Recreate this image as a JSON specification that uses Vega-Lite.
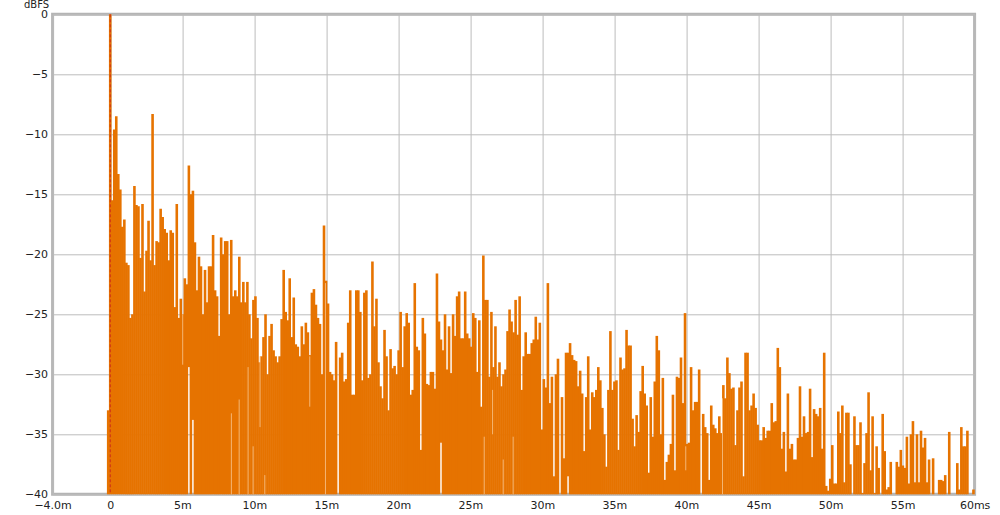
{"$schema":"https://vega.github.io/schema/vega-lite/v6.json","width":922,"height":480,"autosize":"none","padding":{"left":52.6,"top":14.3,"right":25.4,"bottom":20.7},"background":"white","config":{"view":{"stroke":"#b4b4b4","strokeWidth":3},"font":"DejaVu Sans"},
"datasets":{
"main":[{"t":-0.14,"db":-33},{"t":0,"db":0},{"t":0.14,"db":-15.5},{"t":0.28,"db":-9.6},{"t":0.42,"db":-8.5},{"t":0.56,"db":-13.3},{"t":0.7,"db":-14.6},{"t":0.84,"db":-17.7},{"t":0.98,"db":-17.1},{"t":1.12,"db":-20.7},{"t":1.26,"db":-20.9},{"t":1.4,"db":-25.3},{"t":1.54,"db":-25},{"t":1.68,"db":-14.3},{"t":1.82,"db":-15.9},{"t":1.96,"db":-16},{"t":2.1,"db":-20.3},{"t":2.24,"db":-15.8},{"t":2.38,"db":-23.1},{"t":2.52,"db":-19.7},{"t":2.66,"db":-17.2},{"t":2.8,"db":-20.5},{"t":2.94,"db":-8.3},{"t":3.08,"db":-20.9},{"t":3.22,"db":-18.9},{"t":3.36,"db":-19},{"t":3.5,"db":-16.2},{"t":3.64,"db":-16.9},{"t":3.78,"db":-17.9},{"t":3.92,"db":-18.2},{"t":4.06,"db":-20.5},{"t":4.2,"db":-18},{"t":4.34,"db":-18.2},{"t":4.48,"db":-24.4},{"t":4.62,"db":-15.8},{"t":4.76,"db":-25.3},{"t":4.9,"db":-23.7},{"t":5.04,"db":-25},{"t":5.18,"db":-22},{"t":5.32,"db":-22.5},{"t":5.6,"db":-15},{"t":5.88,"db":-19},{"t":6.02,"db":-23},{"t":6.16,"db":-20.2},{"t":6.3,"db":-21},{"t":6.44,"db":-25},{"t":6.58,"db":-21.3},{"t":6.72,"db":-24},{"t":6.86,"db":-21},{"t":7,"db":-21},{"t":7.14,"db":-18.4},{"t":7.28,"db":-23},{"t":7.42,"db":-23.5},{"t":7.56,"db":-26.8},{"t":7.7,"db":-18.6},{"t":7.84,"db":-20},{"t":7.98,"db":-18.9},{"t":8.12,"db":-18.9},{"t":8.26,"db":-25},{"t":8.4,"db":-18.8},{"t":8.54,"db":-23.5},{"t":8.68,"db":-23},{"t":8.82,"db":-23.5},{"t":8.96,"db":-20.2},{"t":9.1,"db":-24},{"t":9.24,"db":-22.3},{"t":9.38,"db":-24},{"t":9.52,"db":-22.3},{"t":9.66,"db":-25},{"t":9.8,"db":-27},{"t":9.94,"db":-23.8},{"t":10.08,"db":-23.5},{"t":10.22,"db":-25.3},{"t":10.36,"db":-29},{"t":10.5,"db":-28.5},{"t":10.64,"db":-26.9},{"t":10.78,"db":-25},{"t":10.92,"db":-30},{"t":11.06,"db":-26.8},{"t":11.2,"db":-25.8},{"t":11.34,"db":-28},{"t":11.48,"db":-28.5},{"t":11.62,"db":-29},{"t":11.76,"db":-28.5},{"t":11.9,"db":-25.4},{"t":12.04,"db":-21.3},{"t":12.18,"db":-24.8},{"t":12.32,"db":-25.5},{"t":12.46,"db":-22},{"t":12.6,"db":-26.9},{"t":12.74,"db":-23.6},{"t":12.88,"db":-27.5},{"t":13.02,"db":-27.7},{"t":13.16,"db":-28.5},{"t":13.3,"db":-26},{"t":13.44,"db":-27.5},{"t":13.58,"db":-25.7},{"t":13.72,"db":-26.5},{"t":13.86,"db":-28.4},{"t":14,"db":-23.2},{"t":14.14,"db":-22.9},{"t":14.28,"db":-24.2},{"t":14.42,"db":-25.3},{"t":14.56,"db":-25.8},{"t":14.7,"db":-30},{"t":14.84,"db":-17.6},{"t":14.98,"db":-22.2},{"t":15.12,"db":-24.1},{"t":15.26,"db":-29.8},{"t":15.4,"db":-30},{"t":15.54,"db":-30.5},{"t":15.68,"db":-27.3},{"t":15.96,"db":-28.6},{"t":16.1,"db":-28.2},{"t":16.24,"db":-30.6},{"t":16.38,"db":-30.4},{"t":16.52,"db":-25.7},{"t":16.66,"db":-23},{"t":16.8,"db":-31.7},{"t":16.94,"db":-31.7},{"t":17.08,"db":-23},{"t":17.22,"db":-23},{"t":17.36,"db":-24.8},{"t":17.5,"db":-30.5},{"t":17.64,"db":-23.2},{"t":17.78,"db":-23},{"t":17.92,"db":-30.3},{"t":18.06,"db":-30},{"t":18.2,"db":-20.6},{"t":18.34,"db":-26},{"t":18.48,"db":-23.7},{"t":18.62,"db":-29},{"t":18.76,"db":-31},{"t":18.9,"db":-32},{"t":19.04,"db":-26.3},{"t":19.18,"db":-28.5},{"t":19.32,"db":-33},{"t":19.46,"db":-27.9},{"t":19.6,"db":-29.5},{"t":19.74,"db":-29.3},{"t":19.88,"db":-30},{"t":20.02,"db":-28},{"t":20.16,"db":-24.8},{"t":20.3,"db":-29.4},{"t":20.44,"db":-26},{"t":20.58,"db":-24.9},{"t":20.72,"db":-25.7},{"t":20.86,"db":-31.7},{"t":21,"db":-31.3},{"t":21.14,"db":-22.4},{"t":21.28,"db":-27.7},{"t":21.42,"db":-28},{"t":21.56,"db":-36.3},{"t":21.7,"db":-25.3},{"t":21.84,"db":-26.6},{"t":21.98,"db":-30.8},{"t":22.12,"db":-30.9},{"t":22.26,"db":-29.8},{"t":22.4,"db":-29.8},{"t":22.54,"db":-31.2},{"t":22.68,"db":-21.6},{"t":22.82,"db":-25.6},{"t":23.1,"db":-28},{"t":23.24,"db":-25},{"t":23.38,"db":-29.6},{"t":23.52,"db":-26},{"t":23.66,"db":-29.9},{"t":23.8,"db":-25},{"t":23.94,"db":-26.8},{"t":24.08,"db":-23.5},{"t":24.22,"db":-23.1},{"t":24.36,"db":-27},{"t":24.5,"db":-27},{"t":24.64,"db":-23.1},{"t":24.78,"db":-26.6},{"t":24.92,"db":-27},{"t":25.06,"db":-27.7},{"t":25.2,"db":-24.9},{"t":25.34,"db":-25.3},{"t":25.48,"db":-29.8},{"t":25.62,"db":-25.5},{"t":25.76,"db":-32.7},{"t":25.9,"db":-20.1},{"t":26.04,"db":-23.8},{"t":26.18,"db":-23.8},{"t":26.32,"db":-30.2},{"t":26.46,"db":-24.8},{"t":26.6,"db":-29.4},{"t":26.74,"db":-26},{"t":26.88,"db":-30.2},{"t":27.02,"db":-29},{"t":27.16,"db":-31},{"t":27.3,"db":-30},{"t":27.44,"db":-29.6},{"t":27.58,"db":-26.4},{"t":27.72,"db":-24.6},{"t":27.86,"db":-25.6},{"t":28,"db":-26.5},{"t":28.14,"db":-23.8},{"t":28.28,"db":-26.7},{"t":28.42,"db":-23.5},{"t":28.56,"db":-31.3},{"t":28.7,"db":-28.5},{"t":28.84,"db":-26.5},{"t":28.98,"db":-28.3},{"t":29.12,"db":-28.3},{"t":29.26,"db":-27.4},{"t":29.4,"db":-27.1},{"t":29.54,"db":-25.2},{"t":29.68,"db":-27.1},{"t":29.82,"db":-25.7},{"t":29.96,"db":-34.6},{"t":30.1,"db":-30.4},{"t":30.24,"db":-31.1},{"t":30.38,"db":-22.4},{"t":30.52,"db":-32.4},{"t":30.66,"db":-30.2},{"t":30.8,"db":-38.5},{"t":30.94,"db":-30},{"t":31.08,"db":-28.7},{"t":31.36,"db":-31.9},{"t":31.5,"db":-37},{"t":31.64,"db":-28.2},{"t":31.92,"db":-27.4},{"t":32.06,"db":-28.4},{"t":32.2,"db":-28.8},{"t":32.34,"db":-28.9},{"t":32.48,"db":-31},{"t":32.62,"db":-29.7},{"t":32.76,"db":-31.6},{"t":32.9,"db":-36.4},{"t":33.04,"db":-31.9},{"t":33.18,"db":-28.5},{"t":33.32,"db":-34.6},{"t":33.46,"db":-31.5},{"t":33.6,"db":-31.9},{"t":33.74,"db":-31.3},{"t":33.88,"db":-29.4},{"t":34.02,"db":-30.5},{"t":34.16,"db":-32.8},{"t":34.3,"db":-35},{"t":34.44,"db":-37.7},{"t":34.58,"db":-31.3},{"t":34.72,"db":-26.4},{"t":34.86,"db":-31.3},{"t":35,"db":-30.6},{"t":35.14,"db":-30.5},{"t":35.28,"db":-36.3},{"t":35.42,"db":-28.6},{"t":35.56,"db":-29.6},{"t":35.7,"db":-29.5},{"t":35.84,"db":-26.3},{"t":35.98,"db":-27.6},{"t":36.12,"db":-27.6},{"t":36.26,"db":-33.7},{"t":36.4,"db":-36},{"t":36.54,"db":-33.4},{"t":36.68,"db":-34.8},{"t":36.82,"db":-31.4},{"t":36.96,"db":-29.3},{"t":37.1,"db":-31.6},{"t":37.24,"db":-32.6},{"t":37.38,"db":-38.2},{"t":37.52,"db":-31.9},{"t":37.66,"db":-35.2},{"t":37.8,"db":-30.6},{"t":37.94,"db":-26.8},{"t":38.08,"db":-28},{"t":38.22,"db":-35},{"t":38.36,"db":-30.3},{"t":38.5,"db":-38.8},{"t":38.64,"db":-37.3},{"t":38.78,"db":-36.7},{"t":38.92,"db":-35.8},{"t":39.06,"db":-31.7},{"t":39.2,"db":-38},{"t":39.34,"db":-30.2},{"t":39.48,"db":-30.3},{"t":39.62,"db":-28.6},{"t":39.76,"db":-32.4},{"t":39.9,"db":-24.9},{"t":40.04,"db":-35.8},{"t":40.18,"db":-35.7},{"t":40.32,"db":-29.4},{"t":40.46,"db":-33},{"t":40.6,"db":-32.3},{"t":40.74,"db":-32.3},{"t":40.88,"db":-29.6},{"t":41.16,"db":-33.3},{"t":41.3,"db":-34.4},{"t":41.44,"db":-34.9},{"t":41.58,"db":-38.8},{"t":41.72,"db":-32.6},{"t":41.86,"db":-34.2},{"t":42,"db":-34.5},{"t":42.14,"db":-34.9},{"t":42.28,"db":-33.5},{"t":42.42,"db":-34.9},{"t":42.56,"db":-30.9},{"t":42.7,"db":-32},{"t":42.84,"db":-28.6},{"t":42.98,"db":-29.9},{"t":43.12,"db":-31.2},{"t":43.26,"db":-31.1},{"t":43.4,"db":-35.9},{"t":43.54,"db":-33},{"t":43.68,"db":-31.1},{"t":43.82,"db":-30.6},{"t":43.96,"db":-38.5},{"t":44.1,"db":-28.2},{"t":44.24,"db":-28.2},{"t":44.38,"db":-33},{"t":44.52,"db":-32.6},{"t":44.66,"db":-31.6},{"t":44.8,"db":-32.8},{"t":44.94,"db":-34.2},{"t":45.08,"db":-35.5},{"t":45.22,"db":-35.5},{"t":45.36,"db":-34.4},{"t":45.5,"db":-35.3},{"t":45.64,"db":-34.7},{"t":45.78,"db":-34.7},{"t":45.92,"db":-32.4},{"t":46.06,"db":-34},{"t":46.2,"db":-33.9},{"t":46.34,"db":-27.8},{"t":46.48,"db":-29.4},{"t":46.62,"db":-36.2},{"t":46.76,"db":-34.8},{"t":46.9,"db":-38.1},{"t":47.04,"db":-31.6},{"t":47.18,"db":-36.2},{"t":47.32,"db":-35.8},{"t":47.46,"db":-37.1},{"t":47.6,"db":-37.1},{"t":47.74,"db":-35.3},{"t":47.88,"db":-31},{"t":48.02,"db":-35.2},{"t":48.16,"db":-33.5},{"t":48.3,"db":-34.9},{"t":48.44,"db":-34.8},{"t":48.58,"db":-31.2},{"t":48.72,"db":-36.9},{"t":48.86,"db":-32.9},{"t":49,"db":-33.3},{"t":49.14,"db":-33.5},{"t":49.28,"db":-32.8},{"t":49.42,"db":-36.2},{"t":49.56,"db":-28.2},{"t":49.7,"db":-39.3},{"t":49.84,"db":-39.7},{"t":49.98,"db":-38.7},{"t":50.12,"db":-35.9},{"t":50.26,"db":-39.1},{"t":50.4,"db":-39.1},{"t":50.54,"db":-33.1},{"t":50.68,"db":-34.9},{"t":50.82,"db":-32.6},{"t":50.96,"db":-39},{"t":51.1,"db":-33.2},{"t":51.24,"db":-33.2},{"t":51.38,"db":-37.5},{"t":51.66,"db":-33.5},{"t":51.8,"db":-35.9},{"t":51.94,"db":-35.9},{"t":52.08,"db":-34},{"t":52.22,"db":-39.9},{"t":52.36,"db":-37.4},{"t":52.5,"db":-34.9},{"t":52.64,"db":-31.5},{"t":52.78,"db":-38},{"t":52.92,"db":-33.5},{"t":53.06,"db":-39.9},{"t":53.2,"db":-36},{"t":53.34,"db":-37.8},{"t":53.62,"db":-33.3},{"t":53.76,"db":-36.4},{"t":53.9,"db":-39.6},{"t":54.04,"db":-39.4},{"t":54.18,"db":-37.3},{"t":54.6,"db":-37.3},{"t":54.74,"db":-37.7},{"t":54.88,"db":-36.3},{"t":55.02,"db":-37.6},{"t":55.16,"db":-37.8},{"t":55.3,"db":-35.2},{"t":55.44,"db":-39.1},{"t":55.58,"db":-35},{"t":55.72,"db":-33.9},{"t":55.86,"db":-39},{"t":56,"db":-35},{"t":56.14,"db":-39},{"t":56.28,"db":-34.7},{"t":56.42,"db":-36.1},{"t":56.56,"db":-35.3},{"t":56.7,"db":-39},{"t":56.84,"db":-37.1},{"t":57.12,"db":-37},{"t":57.54,"db":-38.8},{"t":57.68,"db":-38.8},{"t":57.82,"db":-38.9},{"t":57.96,"db":-38.4},{"t":58.24,"db":-34.8},{"t":58.8,"db":-37.4},{"t":58.94,"db":-39.6},{"t":59.08,"db":-34.4},{"t":59.22,"db":-36},{"t":59.36,"db":-36},{"t":59.5,"db":-34.7},{"t":59.92,"db":-39.6}],
"gapped":[{"t":5.46,"db":-12.6,"lo":-29.4},{"t":5.74,"db":-14.7,"lo":-33.8},{"t":22.96,"db":-27.1,"lo":-35.7},{"t":31.78,"db":-28.2,"lo":-38.5}],
"streaks":[{"t":5.03,"db":-25,"lo":-29.2},{"t":8.41,"db":-33.25,"lo":-40},{"t":8.95,"db":-32.1,"lo":-40},{"t":9.57,"db":-29.4,"lo":-40},{"t":9.92,"db":-36,"lo":-40},{"t":10.4,"db":-28.5,"lo":-34.4},{"t":10.73,"db":-38.4,"lo":-40},{"t":13.85,"db":-28.5,"lo":-32.7},{"t":14.94,"db":-22.4,"lo":-40},{"t":25.96,"db":-35.2,"lo":-40},{"t":27.28,"db":-37.1,"lo":-40},{"t":27.97,"db":-35.2,"lo":-40},{"t":26.54,"db":-31.3,"lo":-35},{"t":39.95,"db":-36,"lo":-38},{"t":42.5,"db":-32,"lo":-40}],
"cursor":[{"t":0,"db":0,"lo":-40}]},
"encoding":{"x":{"field":"t","type":"quantitative","title":null,"scale":{"domain":[-4,60],"nice":false,"zero":false},"axis":{"values":[-4,0,5,10,15,20,25,30,35,40,45,50,55,60],"labelExpr":"datum.value==-4?'−4.0m':datum.value==0?'0':datum.value==60?'60ms':datum.value+'m'","domain":false,"ticks":false,"grid":true,"gridColor":"#bcbcbc","gridWidth":1,"labelFontSize":11,"labelColor":"#222222","labelPadding":5,"labelOverlap":false,"labelBound":false,"labelFlush":false}},"y":{"field":"db","type":"quantitative","title":"dBFS","scale":{"domain":[-40,0],"nice":false,"zero":false},"axis":{"values":[0,-5,-10,-15,-20,-25,-30,-35,-40],"labelExpr":"replace(datum.label,'-','−')","domain":false,"ticks":false,"grid":true,"gridColor":"#bcbcbc","gridWidth":1,"labelFontSize":11,"labelColor":"#222222","labelPadding":5,"titleAngle":0,"titleFontSize":10,"titleFontWeight":"normal","titleColor":"#222222","titleX":-4,"titleY":-5,"titleAlign":"right"}}},
"layer":[
{"data":{"name":"main"},"mark":{"type":"rule","color":"#e67300","strokeWidth":2.6},"encoding":{"y2":{"datum":-40}}},
{"data":{"name":"gapped"},"mark":{"type":"rule","color":"#e67300","strokeWidth":2.6},"encoding":{"y2":{"field":"lo"}}},
{"data":{"name":"streaks"},"mark":{"type":"rule","color":"#f6bd80","strokeWidth":0.9},"encoding":{"y2":{"field":"lo"}}},
{"data":{"name":"cursor"},"mark":{"type":"rule","color":"#cc2a1a","strokeWidth":1,"strokeDash":[3,2]},"encoding":{"y2":{"field":"lo"}}}
]}
